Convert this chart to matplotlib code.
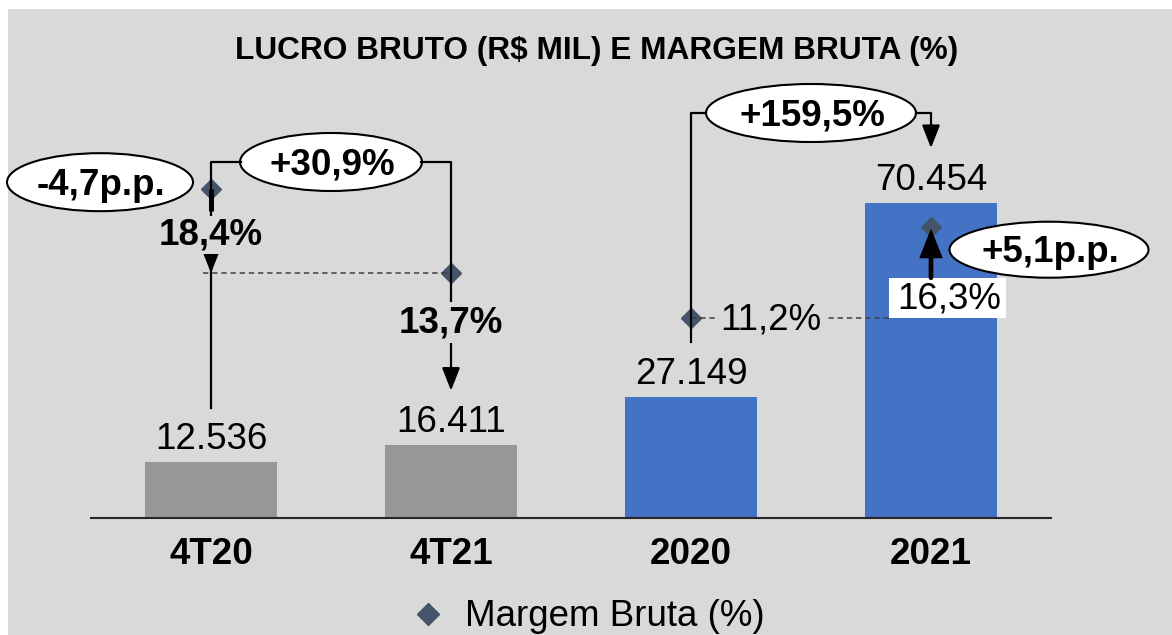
import matplotlib
matplotlib.use("Agg")
import matplotlib.pyplot as plt
from matplotlib.patches import Ellipse, Rectangle

plt.rcParams['font.family'] = ['Liberation Sans', 'DejaVu Sans']

# ---- dados ----
categorias = ['4T20', '4T21', '2020', '2021']
lucro_bruto = [12536, 16411, 27149, 70454]          # R$ mil
margem_bruta = [18.4, 13.7, 11.2, 16.3]              # %
rotulos_lucro = ['12.536', '16.411', '27.149', '70.454']
rotulos_margem = ['18,4%', '13,7%', '11,2%', '16,3%']
var_lucro = ['+30,9%', '+159,5%']
var_margem = ['-4,7p.p.', '+5,1p.p.']

cores_barras = ['#979797', '#979797', '#4472c4', '#4472c4']
FUNDO = '#d9d9d9'
COR_MARCA = '#44546a'
W, H = 1172, 635
FS = 26.5

fig = plt.figure(figsize=(W / 100, H / 100), dpi=100)
fig.patch.set_facecolor('white')
fig.add_artist(Rectangle((8 / W, 0), 1 - 8 / W, 1 - 9 / H, transform=fig.transFigure,
                         facecolor=FUNDO, edgecolor='none', zorder=-10))

# ---- barras (eixo principal) ----
ax = fig.add_axes([91 / W, 117 / H, 960 / W, 418 / H])
ax.set_facecolor('none')
x = list(range(len(categorias)))
ax.bar(x, lucro_bruto, width=0.55, color=cores_barras, zorder=2)
ax.set_xlim(-0.5, 3.5)
ax.set_ylim(0, 93500)
for s in ['top', 'right', 'left']:
    ax.spines[s].set_visible(False)
ax.spines['bottom'].set_color('#262626')
ax.spines['bottom'].set_linewidth(1.5)
ax.set_yticks([])
ax.set_xticks(x)
ax.set_xticklabels(categorias, fontsize=FS, fontweight='bold')
ax.tick_params(axis='x', length=0, pad=14)

# ---- margem (eixo secundario) ----
ax2 = ax.twinx()
ax2.set_ylim(0, 23.39)
linha, = ax2.plot(x, margem_bruta, linestyle='none', marker='D', markersize=10.5,
                  color=COR_MARCA, label='Margem Bruta (%)', zorder=3)
ax2.axis('off')

fig.legend(handles=[linha], loc='center left', bbox_to_anchor=(409.5 / W, 1 - 617 / H),
           frameon=False, fontsize=FS, handlelength=1.0, handletextpad=0.5,
           borderpad=0, borderaxespad=0, markerscale=1.05)

# ---- camada de anotacoes em pixels ----
ov = fig.add_axes([0, 0, 1, 1])
ov.set_xlim(0, W)
ov.set_ylim(H, 0)
ov.axis('off')


def px(i):
    return ax.transData.transform((i, 0))[0]


def py_barra(v):
    return H - ax.transData.transform((0, v))[1]


def py_marg(m):
    return H - ax2.transData.transform((0, m))[1]


xs = [px(i) for i in x]
tops = [py_barra(v) for v in lucro_bruto]
ms = [py_marg(m) for m in margem_bruta]

ov.text(597, 59, 'LUCRO BRUTO (R$ MIL) E MARGEM BRUTA (%)', ha='center', va='baseline',
        fontsize=22.8, fontweight='bold')

for i in x:
    ov.text(xs[i], tops[i] - 13, rotulos_lucro[i], ha='center', va='baseline', fontsize=FS)

LW = 1.6
DASH = dict(color='#404040', lw=1.1, linestyle=(0, (3.5, 2.5)))
SETA = dict(arrowstyle='-|>,head_length=1.4,head_width=0.55', color='black', lw=LW,
            shrinkA=0, shrinkB=0, mutation_scale=10)

# linhas tracejadas de referencia
ov.plot([xs[0] - 8, xs[1]], [ms[1], ms[1]], **DASH)
ov.plot([xs[2], xs[3] - 42], [ms[2], ms[2]], **DASH)


def elipse(cx, cy, w, h, texto):
    ov.add_patch(Ellipse((cx, cy), w, h, facecolor='white', edgecolor='black', lw=1.5))
    ov.text(cx + 1, cy + 12.5, texto, ha='center', va='baseline', fontsize=FS,
            fontweight='bold')


# colchete +30,9% (4T20 -> 4T21)
yb1 = 162
cx1 = (xs[0] + xs[1]) / 2
ov.plot([xs[0], xs[0], cx1 - 90], [tops[0] - 54, yb1, yb1], color='black', lw=LW)
ov.plot([cx1 + 90, xs[1], xs[1]], [yb1, yb1, tops[1] - 70], color='black', lw=LW)
ov.annotate('', xy=(xs[1], tops[1] - 54), xytext=(xs[1], tops[1] - 75), arrowprops=SETA)
elipse(cx1, yb1, 182, 58, var_lucro[0])

# colchete +159,5% (2020 -> 2021)
yb2 = 113
cx2 = (xs[2] + xs[3]) / 2
ov.plot([xs[2], xs[2], cx2 - 105], [tops[2] - 55, yb2, yb2], color='black', lw=LW)
ov.plot([cx2 + 105, xs[3], xs[3]], [yb2, yb2, tops[3] - 70], color='black', lw=LW)
ov.annotate('', xy=(xs[3], tops[3] - 55), xytext=(xs[3], tops[3] - 75), arrowprops=SETA)
elipse(cx2, yb2, 210, 58, var_lucro[1])

# -4,7p.p.
ov.plot([xs[0], xs[0]], [ms[0], ms[0] + 22], color='black', lw=3.6, solid_capstyle='butt')
ov.annotate('', xy=(xs[0], ms[1]), xytext=(xs[0], ms[1] - 22), arrowprops=SETA)
ov.text(xs[0], ms[0] + 55, rotulos_margem[0], ha='center', va='baseline', fontsize=FS,
        fontweight='bold', bbox=dict(facecolor=FUNDO, edgecolor='none', pad=1))
elipse(xs[0] - 111, ms[0] - 7, 186, 58, var_margem[0])

# 13,7% e 11,2%
ov.text(xs[1], ms[1] + 59, rotulos_margem[1], ha='center', va='baseline', fontsize=FS,
        fontweight='bold', bbox=dict(facecolor=FUNDO, edgecolor='none', pad=2))
ov.text(xs[2] + 80, ms[2] + 12, rotulos_margem[2], ha='center', va='baseline', fontsize=FS,
        bbox=dict(facecolor=FUNDO, edgecolor='none', pad=2))

# 16,3% e +5,1p.p.
ov.add_patch(Rectangle((xs[3] - 42, ms[3] + 51), 117, 40, facecolor='white', edgecolor='none'))
ov.text(xs[3] + 18, ms[3] + 82, rotulos_margem[3], ha='center', va='baseline', fontsize=FS)
ov.annotate('', xy=(xs[3], ms[3] + 2), xytext=(xs[3], ms[3] + 51),
            arrowprops=dict(arrowstyle='-|>,head_length=1.5,head_width=0.6', color='black',
                            lw=3.4, shrinkA=0, shrinkB=0, mutation_scale=10,
                            joinstyle='miter'))
elipse(xs[3] + 118, ms[3] + 23, 199, 56, var_margem[1])

fig.savefig('out.png', dpi=100)
